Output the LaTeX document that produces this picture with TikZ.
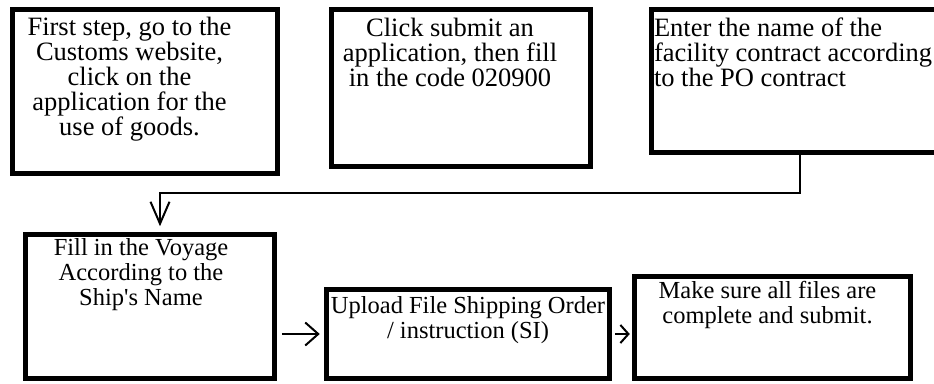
\documentclass[tikz,border=0pt]{standalone}
\usepackage{fontspec}
\setmainfont{Liberation Serif}
\usepackage{tikz}
\usetikzlibrary{arrows.meta,calc}
\newcommand{\steptext}[5]{\parbox[c][#2][t]{#1}{\vspace*{#3}\centering\advance\rightskip by #4\relax #5}}
\newcommand{\apos}{\XeTeXglyph\XeTeXcharglyph"27\relax}

\begin{document}
\begin{tikzpicture}[
  x=1pt, y=1pt,
  stepbox/.style={draw, line width=4.5pt, inner sep=0pt, font=\fontsize{26.5}{25}\selectfont},
  lowbox/.style={stepbox, font=\fontsize{24.5}{25}\selectfont},
  flow/.style={-{Straight Barb[length=13pt,width=23pt]}, line width=2pt}
]
\path[use as bounding box, clip] (0,0) rectangle (934,383);
% top row
\node[stepbox] (website) at (145,291.5) {\steptext{265pt}{164pt}{7.5pt}{31pt}{First step, go to the\\Customs website,\\click on the\\application for the\\use of goods.}};
\node[stepbox] (code) at (461,295) {\steptext{259pt}{157pt}{8.5pt}{22pt}{Click submit an\\application, then fill\\in the code 020900}};
\node[stepbox] (facility) at (805.75,302) {\parbox[c][143pt][t]{308.5pt}{\vspace*{8.5pt}\raggedright\leftskip=2.5pt Enter the name of the\\facility contract according\\to the PO contract}};
% bottom row
\node[lowbox] (voyage) at (150,76.5) {\steptext{249pt}{144pt}{3.8pt}{18pt}{Fill in the Voyage\\According to the\\Ship\apos s Name}};
\node[lowbox] (upload) at (468,49) {\steptext{283pt}{89pt}{6.8pt}{0pt}{Upload File Shipping Order\\/ instruction (SI)}};
\node[lowbox] (submit) at (772.5,55.5) {\steptext{276pt}{102pt}{4.8pt}{10pt}{Make sure all files are\\complete and submit.}};
\coordinate (tapR) at (800,190);
\coordinate (tapL) at (160,190);
\draw[flow, -{Straight Barb[length=22pt,width=19pt]}, shorten >=6pt] (facility.south -| tapR) -- (tapR) -- (tapL) -- (tapL |- voyage.north);
\draw[flow, shorten <=5pt, shorten >=4.5pt] (voyage.east |- upload.west) -- (upload.west);
\draw[flow, -{Straight Barb[length=8pt,width=18pt]}, shorten <=3.5pt, shorten >=2.5pt] (upload.east) -- (upload.east -| submit.west);
\end{tikzpicture}
\end{document}
